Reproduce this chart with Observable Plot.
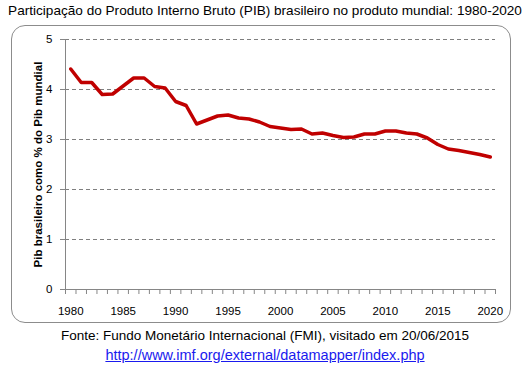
<!DOCTYPE html>
<html><head><meta charset="utf-8">
<script src="https://cdn.jsdelivr.net/npm/d3@7"></script>
<script src="https://cdn.jsdelivr.net/npm/@observablehq/plot@0.6"></script>
<style>
body{margin:0;background:#fff;font-family:"Liberation Sans",Arial,sans-serif;}
#wrap{position:relative;width:530px;height:370px;overflow:hidden;background:#fff}
#frame{position:absolute;left:11px;top:25px;width:500px;height:298px;border:1px solid #8c8c8c;border-radius:14px;box-sizing:border-box}
#title{position:absolute;top:3px;left:0;width:530px;text-align:center;font-size:13.6px;color:#000;white-space:nowrap}
#chart{position:absolute;top:25px;left:0}
#src{position:absolute;top:328px;left:0;width:530px;text-align:center;font-size:13.5px;color:#000;white-space:nowrap}
#url{position:absolute;top:347px;left:0;width:530px;text-align:center;font-size:14.5px;white-space:nowrap}
#url a{color:#1a1aee;text-decoration:underline}
</style></head>
<body><div id="wrap">
<div id="frame"></div>
<div id="title">Participação do Produto Interno Bruto (PIB) brasileiro no produto mundial: 1980-2020</div>
<div id="chart"></div>
<div id="src">Fonte: Fundo Monetário Internacional (FMI), visitado em 20/06/2015</div>
<div id="url"><a href="#">http://www.imf.org/external/datamapper/index.php</a></div>
</div>
<script>
const years = [1980,1981,1982,1983,1984,1985,1986,1987,1988,1989,1990,1991,1992,1993,1994,1995,1996,1997,1998,1999,2000,2001,2002,2003,2004,2005,2006,2007,2008,2009,2010,2011,2012,2013,2014,2015,2016,2017,2018,2019,2020];
const share = [4.41,4.14,4.14,3.90,3.91,4.07,4.23,4.23,4.06,4.03,3.76,3.68,3.31,3.39,3.47,3.49,3.43,3.41,3.35,3.26,3.23,3.20,3.21,3.11,3.13,3.08,3.04,3.05,3.11,3.11,3.17,3.17,3.13,3.11,3.03,2.90,2.81,2.78,2.74,2.70,2.65];
const xTickLabels = [1980,1985,1990,1995,2000,2005,2010,2015,2020];
const yTicks = [0,1,2,3,4,5];
const yLabel = "Pib brasileiro como % do Pib mundial";

const data = years.map((y,i)=>({year:y, value:share[i]}));
const bounds = years.map(y=>y-0.5).concat([years[years.length-1]+0.5]);
const gray = "#868686";

const chart = Plot.plot({
  width:530, height:300,
  marginLeft:65, marginRight:35, marginTop:14, marginBottom:36,
  x:{domain:[years[0]-0.5, years[years.length-1]+0.5]},
  y:{domain:[0,5]},
  style:{fontFamily:"'Liberation Sans', Arial, sans-serif", fontSize:"11.5px", color:"#000", background:"transparent"},
  marks:[
    Plot.gridY(yTicks.filter(d=>d>0),{stroke:"#7f7f7f",strokeOpacity:1,strokeDasharray:"4,3"}),
    Plot.ruleY([0],{stroke:gray}),
    Plot.ruleX([years[0]-0.5],{stroke:gray}),
    Plot.axisY(yTicks,{tickSize:5,tickPadding:8,stroke:gray,label:null,tickFormat:d=>String(d)}),
    Plot.axisX(bounds,{tickSize:5,tickFormat:()=>"",stroke:gray,label:null}),
    Plot.axisX(xTickLabels,{tickSize:0,tickPadding:17,tickFormat:d=>String(d),label:null}),
    Plot.text([yLabel],{frameAnchor:"left",textAnchor:"middle",dx:-27,rotate:-90,fontWeight:"bold",fontSize:11.5}),
    Plot.line(data,{x:"year",y:"value",stroke:"#c00000",strokeWidth:3.5,strokeLinejoin:"round"})
  ]
});
document.getElementById("chart").appendChild(chart);
</script>
</body></html>
